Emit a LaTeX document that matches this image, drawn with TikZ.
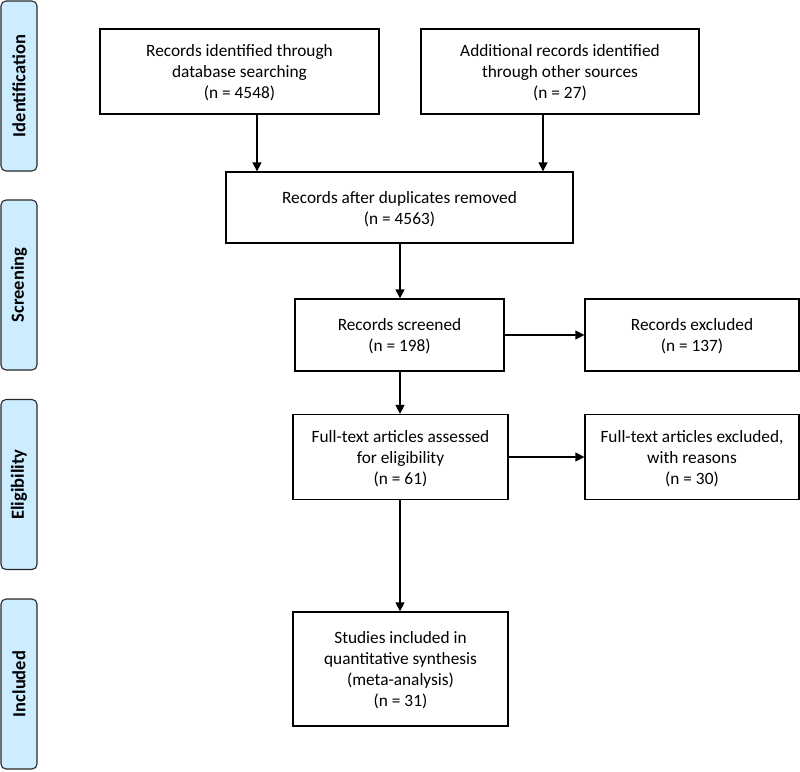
\documentclass[tikz,border=0pt]{standalone}
\usepackage{fontspec}
\setmainfont{Carlito}
\usetikzlibrary{arrows.meta}
\definecolor{phasefill}{RGB}{204,236,255}
\definecolor{phasedraw}{RGB}{40,40,40}
\tikzset{
  box/.style={draw=black, line width=1.3pt, fill=white, align=center, inner sep=0pt,
    text depth=0pt, font=\fontsize{17.3}{21}\selectfont},
  phase/.style={draw=phasedraw, fill=phasefill, line width=1.1pt, rounded corners=5pt,
    rotate=90, minimum width=170pt, minimum height=36pt, inner sep=0pt,
    font=\fontsize{18.5}{22}\selectfont\bfseries},
  conn/.style={line width=1.3pt, -{Triangle[length=9pt,width=9pt]}}
}
\begin{document}
\begin{tikzpicture}[x=1pt,y=-1pt]
\useasboundingbox (0,0) rectangle (800,771);
% phases
\node[phase] (p1) at (19,86) {Identification};
\node[phase] (p2) at (19,285) {Screening};
\node[phase] (p3) at (19,484.5) {Eligibility};
\node[phase] (p4) at (19,684) {Included};
% boxes
\node[box, minimum width=279pt, minimum height=85pt] (b1) at (239.5,71.5) {Records identified through\\database searching\\(n = 4548)};
\node[box, minimum width=278pt, minimum height=85pt] (b2) at (560,71.5) {Additional records identified\\through other sources\\(n = 27)};
\node[box, minimum width=347pt, minimum height=71pt] (b3) at (399.5,207.5) {Records after duplicates removed\\(n = 4563)};
\node[box, minimum width=209pt, minimum height=72pt] (b4) at (399.5,335) {Records screened\\(n = 198)};
\node[box, minimum width=214pt, minimum height=72pt] (b5) at (692,335) {Records excluded\\(n = 137)};
\node[box, minimum width=215pt, minimum height=85pt] (b6) at (400.5,457) {Full-text articles assessed\\for eligibility\\(n = 61)};
\node[box, minimum width=214pt, minimum height=85pt] (b7) at (692,457) {Full-text articles excluded,\\with reasons\\(n = 30)};
\node[box, minimum width=215pt, minimum height=114pt] (b8) at (400.5,669) {Studies included in\\quantitative synthesis\\(meta-analysis)\\(n = 31)};
% connectors
\coordinate (c1) at (257,0);
\coordinate (c2) at (543,0);
\coordinate (c3) at (400,0);
\draw[conn] (b1.south -| c1) -- (b3.north -| c1);
\draw[conn] (b2.south -| c2) -- (b3.north -| c2);
\draw[conn] (b3.south -| c3) -- (b4.north -| c3);
\draw[conn] (b4.south -| c3) -- (b6.north -| c3);
\draw[conn] (b6.south -| c3) -- (b8.north -| c3);
\draw[conn] (b4.east) -- (b5.west);
\draw[conn] (b6.east) -- (b7.west);
\end{tikzpicture}
\end{document}
